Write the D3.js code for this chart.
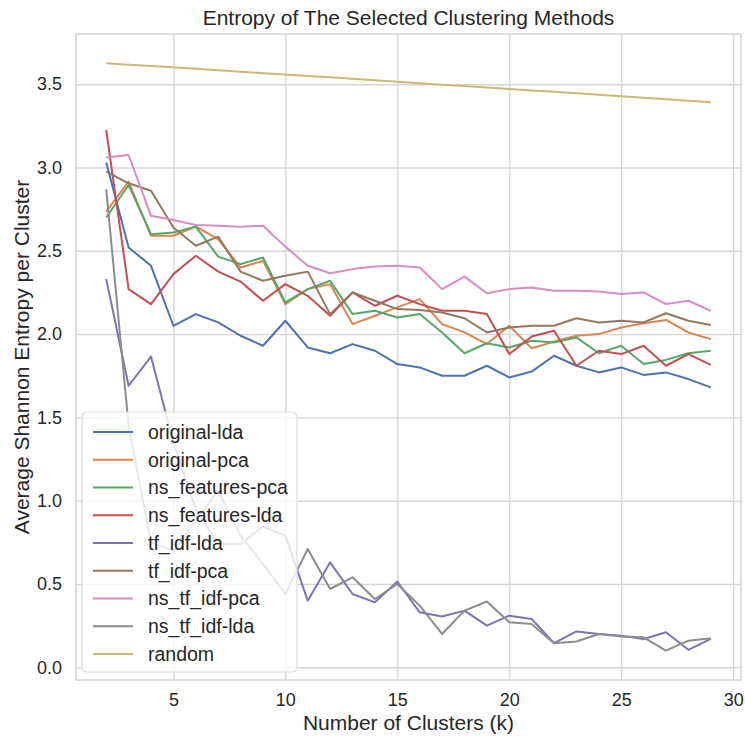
<!DOCTYPE html>
<html lang="en">
<head>
<meta charset="utf-8">
<title>Entropy of The Selected Clustering Methods</title>
<script src="https://cdn.jsdelivr.net/npm/d3@7"></script>
<style>
  body { margin: 0; background: #fff; }
  svg { font-family: "Liberation Sans", Arial, sans-serif; }
  .grid line { stroke: #d6d6d6; stroke-width: 1.4; }
  .grid path { display: none; }
  .ticks text { fill: #262626; font-size: 18px; }
  .ticks line, .ticks path { display: none; }
</style>
</head>
<body>
<script>
// cluster counts on the x axis
var ks = [2, 3, 4, 5, 6, 7, 8, 9, 10, 11, 12, 13, 14, 15, 16, 17, 18, 19, 20, 21, 22, 23, 24, 25, 26, 27, 28, 29];

// average entropy per cluster, one array per method
var originalLda = [3.03, 2.52, 2.41, 2.05, 2.12, 2.07, 1.99, 1.93, 2.08, 1.92, 1.885, 1.94, 1.90, 1.82,
                   1.80, 1.75, 1.75, 1.81, 1.74, 1.775, 1.87, 1.81, 1.77, 1.80, 1.755, 1.77, 1.73, 1.68];
var originalPca = [2.735, 2.915, 2.59, 2.59, 2.645, 2.57, 2.40, 2.44, 2.18, 2.27, 2.30, 2.06, 2.11, 2.16,
                   2.21, 2.06, 2.01, 1.94, 2.05, 1.915, 1.955, 1.99, 2.0, 2.04, 2.065, 2.085, 2.01, 1.97];
var nsFeaturesPca = [2.70, 2.895, 2.60, 2.61, 2.645, 2.465, 2.42, 2.46, 2.19, 2.27, 2.32, 2.12, 2.14, 2.10,
                     2.12, 2.01, 1.885, 1.945, 1.92, 1.96, 1.95, 1.98, 1.885, 1.93, 1.82, 1.845, 1.885, 1.90];
var nsFeaturesLda = [3.225, 2.27, 2.18, 2.36, 2.47, 2.375, 2.315, 2.20, 2.30, 2.23, 2.11, 2.25, 2.17, 2.23,
                     2.18, 2.14, 2.14, 2.12, 1.88, 1.985, 2.02, 1.81, 1.90, 1.88, 1.93, 1.81, 1.88, 1.815];
var tfIdfLda = [2.33, 1.69, 1.865, 1.35, 0.95, 0.74, 0.74, 0.845, 0.79, 0.40, 0.63, 0.44, 0.39, 0.515,
                0.33, 0.305, 0.34, 0.25, 0.31, 0.29, 0.145, 0.215, 0.20, 0.19, 0.17, 0.21, 0.105, 0.17];
var tfIdfPca = [2.975, 2.905, 2.86, 2.64, 2.53, 2.585, 2.375, 2.32, 2.35, 2.375, 2.12, 2.25, 2.20, 2.15,
                2.145, 2.13, 2.095, 2.01, 2.04, 2.05, 2.05, 2.095, 2.07, 2.08, 2.07, 2.125, 2.08, 2.055];
var nsTfIdfPca = [3.06, 3.075, 2.71, 2.685, 2.655, 2.65, 2.645, 2.65, 2.525, 2.41, 2.365, 2.39, 2.405, 2.41,
                  2.40, 2.27, 2.345, 2.245, 2.27, 2.28, 2.26, 2.26, 2.255, 2.24, 2.25, 2.18, 2.20, 2.14];
var nsTfIdfLda = [2.87, 1.45, 0.75, 0.70, 0.88, 1.06, 0.79, 0.62, 0.44, 0.71, 0.47, 0.54, 0.41, 0.50,
                  0.37, 0.20, 0.34, 0.395, 0.27, 0.26, 0.145, 0.155, 0.20, 0.185, 0.18, 0.10, 0.16, 0.175];
var random = [3.625, 3.617, 3.609, 3.601, 3.592, 3.584, 3.575, 3.566, 3.558, 3.549, 3.541, 3.532, 3.523, 3.514,
              3.506, 3.497, 3.489, 3.480, 3.471, 3.462, 3.454, 3.445, 3.436, 3.428, 3.418, 3.409, 3.400, 3.391];

var names = ["original-lda", "original-pca", "ns_features-pca", "ns_features-lda", "tf_idf-lda",
             "tf_idf-pca", "ns_tf_idf-pca", "ns_tf_idf-lda", "random"];
var colors = ["#4c72b0", "#dd8452", "#55a868", "#c44e52", "#8172b3",
              "#937860", "#da8bc3", "#8c8c8c", "#ccb974"];
var xTicks = [5, 10, 15, 20, 25, 30];
var yTicks = [0.0, 0.5, 1.0, 1.5, 2.0, 2.5, 3.0, 3.5];

var series = [originalLda, originalPca, nsFeaturesPca, nsFeaturesLda, tfIdfLda,
              tfIdfPca, nsTfIdfPca, nsTfIdfLda, random].map(function(vals, i) {
    return { name: names[i], color: colors[i], values: vals };
});

var width = 745, height = 740;
var margin = { top: 34, right: 4, bottom: 60, left: 76 };
var plotW = width - margin.left - margin.right;
var plotH = height - margin.top - margin.bottom;

var svg = d3.select("body").append("svg")
    .attr("width", width)
    .attr("height", height);

// matplotlib style 5% padding around the data
var xMin = d3.min(ks), xMax = d3.max(ks);
var allVals = d3.merge(series.map(function(s) { return s.values; }));
var yMin = d3.min(allVals), yMax = d3.max(allVals);
var xPad = (xMax - xMin) * 0.05, yPad = (yMax - yMin) * 0.05;

var x = d3.scaleLinear().domain([xMin - xPad, xMax + xPad]).range([0, plotW]);
var y = d3.scaleLinear().domain([yMin - yPad, yMax + yPad]).range([plotH, 0]);

var g = svg.append("g")
    .attr("transform", "translate(" + margin.left + "," + margin.top + ")");

// grid
g.append("g").attr("class", "grid")
    .attr("transform", "translate(0," + plotH + ")")
    .call(d3.axisBottom(x).tickValues(xTicks).tickSize(-plotH).tickFormat(""));
g.append("g").attr("class", "grid")
    .call(d3.axisLeft(y).tickValues(yTicks).tickSize(-plotW).tickFormat(""));

// frame
g.append("rect")
    .attr("width", plotW)
    .attr("height", plotH)
    .attr("fill", "none")
    .attr("stroke", "#d6d6d6")
    .attr("stroke-width", 1.6);

// tick labels
g.append("g").attr("class", "ticks")
    .attr("transform", "translate(0," + plotH + ")")
    .call(d3.axisBottom(x).tickValues(xTicks).tickSize(0).tickPadding(13).tickFormat(d3.format("d")));
g.append("g").attr("class", "ticks")
    .call(d3.axisLeft(y).tickValues(yTicks).tickSize(0).tickPadding(14).tickFormat(d3.format(".1f")));

// lines
var line = d3.line()
    .x(function(d, i) { return x(ks[i]); })
    .y(function(d) { return y(d); });

g.selectAll(".series")
    .data(series)
    .enter()
    .append("path")
    .attr("class", "series")
    .attr("d", function(d) { return line(d.values); })
    .attr("fill", "none")
    .attr("stroke", function(d) { return d.color; })
    .attr("stroke-width", 2)
    .attr("stroke-linejoin", "round");

// legend
var legX = 6, legY = 378, legW = 215, legH = 260, rowH = 27.75;
var legend = g.append("g").attr("transform", "translate(" + legX + "," + legY + ")");
legend.append("rect")
    .attr("width", legW)
    .attr("height", legH)
    .attr("rx", 5)
    .attr("fill", "#fff")
    .attr("fill-opacity", 0.8)
    .attr("stroke", "#dcdcdc")
    .attr("stroke-width", 1.2);
var item = legend.selectAll(".item")
    .data(series)
    .enter()
    .append("g")
    .attr("class", "item")
    .attr("transform", function(d, i) { return "translate(0," + (20 + i * rowH) + ")"; });
item.append("line")
    .attr("x1", 11).attr("x2", 51)
    .attr("stroke", function(d) { return d.color; })
    .attr("stroke-width", 2);
item.append("text")
    .attr("x", 66)
    .attr("dy", "0.35em")
    .attr("fill", "#262626")
    .style("font-size", "19.5px")
    .text(function(d) { return d.name; });

// title and axis labels
svg.append("text")
    .attr("x", margin.left + plotW / 2)
    .attr("y", 25)
    .attr("text-anchor", "middle")
    .attr("fill", "#262626")
    .style("font-size", "21px")
    .text("Entropy of The Selected Clustering Methods");
svg.append("text")
    .attr("x", margin.left + plotW / 2)
    .attr("y", 730)
    .attr("text-anchor", "middle")
    .attr("fill", "#262626")
    .style("font-size", "21px")
    .text("Number of Clusters (k)");
svg.append("text")
    .attr("transform", "translate(29," + (margin.top + plotH / 2) + ") rotate(-90)")
    .attr("text-anchor", "middle")
    .attr("fill", "#262626")
    .style("font-size", "21px")
    .text("Average Shannon Entropy per Cluster");
</script>
</body>
</html>
